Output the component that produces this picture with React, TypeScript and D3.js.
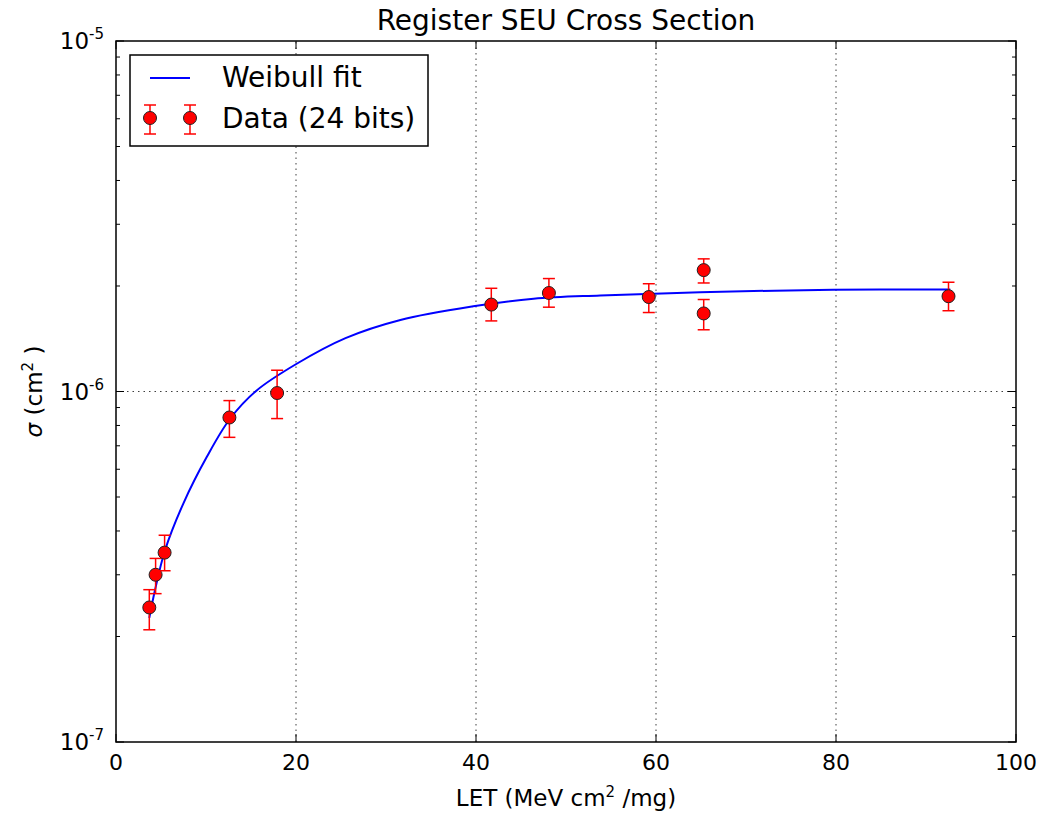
import React from 'react';
import * as d3 from 'd3';

// measured points: LET (MeV cm2/mg), cross section (cm2), error bar low / high
const letValues = [3.7, 4.4, 5.4, 12.6, 17.9, 41.7, 48.1, 59.2, 65.3, 65.3, 92.5];
const sigmaValues = [2.42e-7, 3.0e-7, 3.47e-7, 8.43e-7, 9.9e-7, 1.77e-6, 1.91e-6, 1.86e-6, 2.22e-6, 1.67e-6, 1.87e-6];
const sigmaLow = [2.09e-7, 2.65e-7, 3.08e-7, 7.4e-7, 8.37e-7, 1.59e-6, 1.74e-6, 1.68e-6, 2.04e-6, 1.5e-6, 1.7e-6];
const sigmaHigh = [2.72e-7, 3.34e-7, 3.89e-7, 9.42e-7, 1.15e-6, 1.97e-6, 2.1e-6, 2.03e-6, 2.39e-6, 1.83e-6, 2.05e-6];

// weibull fit curve
const fitLet = [3.7, 4.33, 5.44, 7.48, 10.08, 12.67, 15.63, 20.08, 25.5, 31.6, 39.7, 46.4, 53.8, 64.9, 79.7, 92.7];
const fitSigma = [2.26e-7, 2.71e-7, 3.52e-7, 4.79e-7, 6.5e-7, 8.36e-7, 1.007e-6, 1.2e-6, 1.42e-6, 1.6e-6, 1.75e-6, 1.84e-6, 1.88e-6, 1.92e-6, 1.95e-6, 1.954e-6];

const xTicks = [0, 20, 40, 60, 80, 100];
const yDecades = [-7, -6, -5];

const W = 1052, H = 816;
const margin = { top: 41, right: 36, bottom: 74, left: 116 };
const font = 'DejaVu Sans, sans-serif';

export default function App() {
	const x = d3.scaleLinear().domain([0, 100]).range([margin.left, W - margin.right]);
	const y = d3.scaleLog().domain([1e-7, 1e-5]).range([H - margin.bottom, margin.top]);
	const [x0, x1] = x.range();
	const [y0, y1] = y.range();

	const line = d3.line<number>()
		.x((d, i) => x(fitLet[i]))
		.y((d) => y(d))
		.curve(d3.curveCatmullRom.alpha(0.5));

	const minor: number[] = [];
	for (let e = -7; e < -5; e++) {
		for (let m = 2; m < 10; m++) minor.push(m * Math.pow(10, e));
	}
	const gridY = yDecades.filter(e => e > -7 && e < -5);
	const gridX = xTicks.filter(t => t > 0 && t < 100);

	const legendX = 130, legendY = 55;

	return (
		<div style={{ position: 'fixed', left: 0, top: 0 }}>
			<svg width={W} height={H} style={{ display: 'block', background: '#fff' }} fontFamily={font}>
				<text x={(x0 + x1) / 2} y={30} textAnchor="middle" fontSize={28} fill="#000">Register SEU Cross Section</text>

				{/* grid */}
				{gridX.map(t => (
					<line key={'gx' + t} x1={x(t)} x2={x(t)} y1={y0} y2={y1} stroke="#000" strokeWidth={1} strokeDasharray="1.5,4" opacity={0.75} />
				))}
				{gridY.map(e => (
					<line key={'gy' + e} x1={x0} x2={x1} y1={y(Math.pow(10, e))} y2={y(Math.pow(10, e))} stroke="#000" strokeWidth={1} strokeDasharray="1.5,4" opacity={0.75} />
				))}

				{/* ticks */}
				{xTicks.map(t => (
					<g key={'xt' + t}>
						<line x1={x(t)} x2={x(t)} y1={y0} y2={y0 - 8} stroke="#000" />
						<line x1={x(t)} x2={x(t)} y1={y1} y2={y1 + 8} stroke="#000" />
						<text x={x(t)} y={770} textAnchor="middle" fontSize={22} fill="#000">{t}</text>
					</g>
				))}
				{yDecades.map(e => {
					const v = Math.pow(10, e);
					return (
						<g key={'yt' + e}>
							<line x1={x0} x2={x0 + 8} y1={y(v)} y2={y(v)} stroke="#000" />
							<line x1={x1} x2={x1 - 8} y1={y(v)} y2={y(v)} stroke="#000" />
							<text x={104} y={y(v) + 8} textAnchor="end" fontSize={23} fill="#000">
								10<tspan dy={-10} fontSize={15}>{e}</tspan>
							</text>
						</g>
					);
				})}
				{minor.map((v, i) => (
					<g key={'ym' + i}>
						<line x1={x0} x2={x0 + 4} y1={y(v)} y2={y(v)} stroke="#000" />
						<line x1={x1} x2={x1 - 4} y1={y(v)} y2={y(v)} stroke="#000" />
					</g>
				))}

				{/* fit */}
				<path d={line(fitSigma) || ''} fill="none" stroke="#0000ff" strokeWidth={2} />

				{/* data with error bars */}
				{letValues.map((l, i) => (
					<g key={'p' + i}>
						<line x1={x(l)} x2={x(l)} y1={y(sigmaLow[i])} y2={y(sigmaHigh[i])} stroke="#ff0000" strokeWidth={1.5} />
						<line x1={x(l) - 6} x2={x(l) + 6} y1={y(sigmaLow[i])} y2={y(sigmaLow[i])} stroke="#ff0000" strokeWidth={1.5} />
						<line x1={x(l) - 6} x2={x(l) + 6} y1={y(sigmaHigh[i])} y2={y(sigmaHigh[i])} stroke="#ff0000" strokeWidth={1.5} />
						<circle cx={x(l)} cy={y(sigmaValues[i])} r={6.5} fill="#ff0000" stroke="#222" strokeWidth={1} />
					</g>
				))}

				{/* frame */}
				<rect x={x0} y={y1} width={x1 - x0} height={y0 - y1} fill="none" stroke="#000" strokeWidth={1.5} />

				{/* legend */}
				<rect x={legendX} y={legendY} width={298} height={91} fill="#fff" stroke="#000" strokeWidth={1.5} />
				<line x1={150} x2={190} y1={78} y2={78} stroke="#0000ff" strokeWidth={2} />
				<text x={222} y={87} fontSize={28} fill="#000">Weibull fit</text>
				{[150, 190].map(cx => (
					<g key={'lg' + cx}>
						<line x1={cx} x2={cx} y1={105} y2={134} stroke="#ff0000" strokeWidth={1.5} />
						<line x1={cx - 6} x2={cx + 6} y1={105} y2={105} stroke="#ff0000" strokeWidth={1.5} />
						<line x1={cx - 6} x2={cx + 6} y1={134} y2={134} stroke="#ff0000" strokeWidth={1.5} />
						<circle cx={cx} cy={118} r={6.5} fill="#ff0000" stroke="#222" strokeWidth={1} />
					</g>
				))}
				<text x={222} y={128} fontSize={28} fill="#000">Data (24 bits)</text>

				{/* axis labels */}
				<text x={(x0 + x1) / 2} y={806} textAnchor="middle" fontSize={23} fill="#000">
					LET (MeV cm<tspan dy={-9} fontSize={15}>2</tspan><tspan dy={9}> /mg)</tspan>
				</text>
				<text transform={`translate(42, ${(y0 + y1) / 2}) rotate(-90)`} textAnchor="middle" fontSize={23} fill="#000">
					<tspan fontStyle="italic">σ</tspan> (cm<tspan dy={-9} fontSize={15}>2</tspan><tspan dy={9}> )</tspan>
				</text>
			</svg>
		</div>
	);
}
